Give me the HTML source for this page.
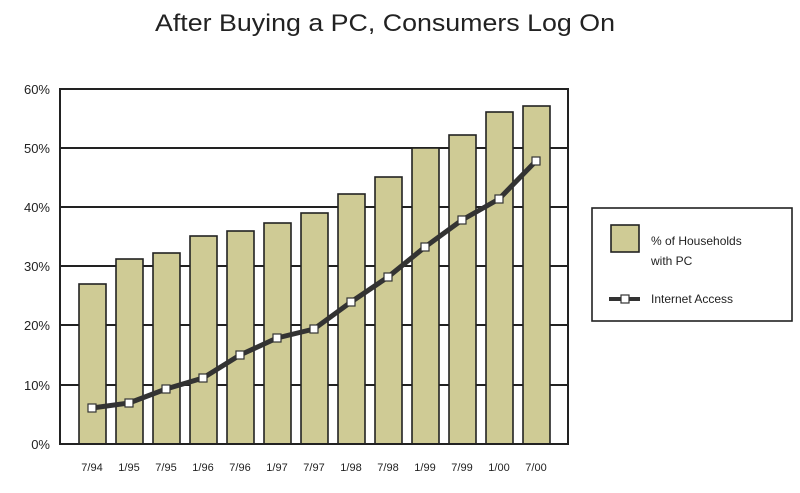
<!DOCTYPE html>
<html><head><style>html,body{margin:0;padding:0;background:#fff}svg{display:block}</style></head><body>
<svg width="800" height="493" viewBox="0 0 800 493" xmlns="http://www.w3.org/2000/svg" font-family="Liberation Sans, sans-serif">
<text x="155" y="31" font-size="24" fill="#222" textLength="460" lengthAdjust="spacingAndGlyphs">After Buying a PC, Consumers Log On</text>
<g stroke="#222" stroke-width="2">
<line x1="60" y1="148" x2="568" y2="148"/>
<line x1="60" y1="207" x2="568" y2="207"/>
<line x1="60" y1="266" x2="568" y2="266"/>
<line x1="60" y1="325" x2="568" y2="325"/>
<line x1="60" y1="385" x2="568" y2="385"/>
</g>
<g fill="#cfcb95" stroke="#222" stroke-width="1.6">
<rect x="79" y="284" width="27" height="160"/>
<rect x="116" y="259" width="27" height="185"/>
<rect x="153" y="253" width="27" height="191"/>
<rect x="190" y="236" width="27" height="208"/>
<rect x="227" y="231" width="27" height="213"/>
<rect x="264" y="223" width="27" height="221"/>
<rect x="301" y="213" width="27" height="231"/>
<rect x="338" y="194" width="27" height="250"/>
<rect x="375" y="177" width="27" height="267"/>
<rect x="412" y="148" width="27" height="296"/>
<rect x="449" y="135" width="27" height="309"/>
<rect x="486" y="112" width="27" height="332"/>
<rect x="523" y="106" width="27" height="338"/>
</g>
<rect x="60" y="89" width="508" height="355" fill="none" stroke="#222" stroke-width="2"/>
<polyline fill="none" stroke="#333" stroke-width="5" stroke-linejoin="round" points="92,408 129,403 166,389 203,378 240,355 277,338 314,329 351,302 388,277 425,247 462,220 499,199 536,161"/>
<g fill="#fff" stroke="#333" stroke-width="1.2">
<rect x="88" y="404" width="8" height="8"/><rect x="125" y="399" width="8" height="8"/><rect x="162" y="385" width="8" height="8"/><rect x="199" y="374" width="8" height="8"/><rect x="236" y="351" width="8" height="8"/><rect x="273" y="334" width="8" height="8"/><rect x="310" y="325" width="8" height="8"/><rect x="347" y="298" width="8" height="8"/><rect x="384" y="273" width="8" height="8"/><rect x="421" y="243" width="8" height="8"/><rect x="458" y="216" width="8" height="8"/><rect x="495" y="195" width="8" height="8"/><rect x="532" y="157" width="8" height="8"/>
</g>
<g font-size="13" fill="#222" text-anchor="end">
<text x="50" y="94">60%</text><text x="50" y="153">50%</text><text x="50" y="212">40%</text><text x="50" y="271">30%</text><text x="50" y="330">20%</text><text x="50" y="390">10%</text><text x="50" y="449">0%</text>
</g>
<g font-size="11" fill="#222" text-anchor="middle">
<text x="92" y="471">7/94</text><text x="129" y="471">1/95</text><text x="166" y="471">7/95</text><text x="203" y="471">1/96</text><text x="240" y="471">7/96</text><text x="277" y="471">1/97</text><text x="314" y="471">7/97</text><text x="351" y="471">1/98</text><text x="388" y="471">7/98</text><text x="425" y="471">1/99</text><text x="462" y="471">7/99</text><text x="499" y="471">1/00</text><text x="536" y="471">7/00</text>
</g>
<rect x="592" y="208" width="200" height="113" fill="#fff" stroke="#222" stroke-width="1.6"/>
<rect x="611" y="225" width="28" height="27" fill="#cfcb95" stroke="#222" stroke-width="1.6"/>
<g font-size="12" fill="#222">
<text x="651" y="245">% of Households</text>
<text x="651" y="265">with PC</text>
<text x="651" y="303">Internet Access</text>
</g>
<line x1="609" y1="299" x2="640" y2="299" stroke="#333" stroke-width="4"/>
<rect x="621" y="295" width="8" height="8" fill="#fff" stroke="#333" stroke-width="1.2"/>
</svg>
</body></html>
